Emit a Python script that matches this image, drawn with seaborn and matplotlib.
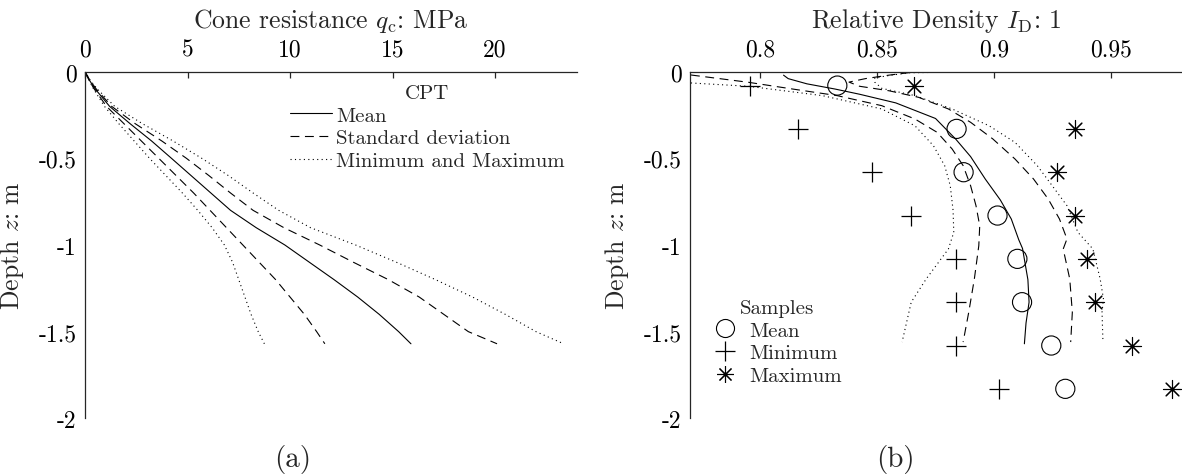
import numpy as np
import pandas as pd
import matplotlib
matplotlib.use("Agg")
import matplotlib.pyplot as plt
import seaborn as sns
from matplotlib.lines import Line2D
from matplotlib.ticker import FuncFormatter

# ---------------- data: panel (a) CPT ----------------
cpt_depth = [0, -0.05, -0.1, -0.2, -0.3, -0.4, -0.5, -0.6, -0.7, -0.8, -0.9,
             -1.0, -1.1, -1.2, -1.3, -1.4, -1.5, -1.57]
cpt_mean = [0, 0.22, 0.5, 1.2, 2.2, 3.25, 4.22, 5.18, 6.14, 7.1, 8.35,
            9.75, 10.95, 12.15, 13.3, 14.35, 15.3, 15.9]
cpt_sd_high = [0, 0.24, 0.55, 1.3, 2.45, 3.75, 4.95, 6.05, 7.1, 8.2, 9.7,
               11.45, 13.1, 14.8, 16.3, 17.5, 18.7, 20.1]
cpt_sd_low = [0, 0.2, 0.45, 1.05, 1.9, 2.75, 3.6, 4.45, 5.3, 6.1, 6.9,
              7.7, 8.5, 9.3, 10.0, 10.7, 11.3, 11.7]
cpt_min = [0, 0.2, 0.42, 0.95, 1.65, 2.4, 3.15, 3.95, 4.75, 5.5, 6.2,
           6.8, 7.2, 7.5, 7.8, 8.1, 8.45, 8.75]
cpt_max = [0, 0.26, 0.6, 1.45, 2.8, 4.3, 5.7, 7.0, 8.2, 9.45, 11.0,
           13.2, 15.2, 17.1, 18.9, 20.5, 22.0, 23.35]

# ---------------- data: panel (b) relative density ----------------
rd_mean_depth = [-0.02, -0.04, -0.07, -0.10, -0.13, -0.18, -0.27, -0.39, -0.49,
                 -0.62, -0.74, -0.85, -0.97, -1.02, -1.20, -1.33, -1.45, -1.57]
rd_mean = [0.810, 0.812, 0.820, 0.832, 0.8425, 0.858, 0.875, 0.8837, 0.890,
           0.8963, 0.9027, 0.9074, 0.9106, 0.9122, 0.9145, 0.915, 0.9137, 0.913]

rd_sd_high_depth = [-0.005, -0.02, -0.04, -0.06, -0.084, -0.11, -0.148, -0.215,
                    -0.292, -0.388, -0.504, -0.619, -0.735, -0.85, -0.965,
                    -1.023, -1.196, -1.388, -1.56]
rd_sd_high = [0.864, 0.855, 0.845, 0.838, 0.8425, 0.8551, 0.8678, 0.8805,
              0.890, 0.8995, 0.909, 0.9169, 0.9232, 0.928, 0.9312,
              0.9296, 0.9324, 0.9335, 0.9328]

rd_sd_low_depth = [-0.019, -0.061, -0.1, -0.138, -0.196, -0.273, -0.35, -0.446,
                   -0.542, -0.658, -0.773, -0.889, -1.004, -1.196, -1.388, -1.56]
rd_sd_low = [0.7704, 0.7949, 0.8139, 0.8329, 0.852, 0.8662, 0.8757, 0.8821,
             0.8868, 0.890, 0.8923, 0.8939, 0.8935, 0.8916, 0.8892, 0.8868]

rd_min_depth = [-0.065, -0.084, -0.138, -0.215, -0.312, -0.427, -0.542, -0.658,
                -0.80, -0.927, -1.023, -1.196, -1.33, -1.56]
rd_min = [0.7704, 0.7949, 0.8266, 0.852, 0.8662, 0.8741, 0.8789, 0.8813,
          0.8825, 0.8828, 0.8805, 0.871, 0.8646, 0.8607]

rd_max_depth = [-0.003, -0.006, -0.02, -0.036, -0.06, -0.096, -0.138, -0.215,
                -0.312, -0.408, -0.542, -0.658, -0.773, -0.927, -1.023,
                -1.196, -1.31, -1.388, -1.56]
rd_max = [0.8794, 0.864, 0.856, 0.849, 0.849, 0.852, 0.8662, 0.8821,
          0.8979, 0.909, 0.9185, 0.9249, 0.9312, 0.9359, 0.9423,
          0.9454, 0.9468, 0.9462, 0.9466]

sample_depth = [-0.08, -0.33, -0.58, -0.83, -1.08, -1.33, -1.58, -1.83]
sample_mean = [0.833, 0.884, 0.887, 0.9015, 0.910, 0.912, 0.9245, 0.9305]
sample_min = [0.7957, 0.816, 0.848, 0.8646, 0.8837, 0.8837, 0.8837, 0.9023]
sample_max = [0.8657, 0.9347, 0.9269, 0.9347, 0.9396, 0.943, 0.959, 0.976]

# ---------------- style ----------------
sns.set_style("white")
plt.rcParams["font.family"] = ["cmr10", "DejaVu Serif"]
plt.rcParams["mathtext.fontset"] = "cm"
plt.rcParams["axes.unicode_minus"] = False
plt.rcParams["axes.formatter.use_mathtext"] = False

AX_COLOR = "#262626"
LW = 0.8
SOLID = "-"
DASHED = (0, (8, 5))
DOTTED = (0, (1, 3))
TICK_FS = 17
LABEL_FS = 18.5
LEG_FS = 15

fig = plt.figure(figsize=(11.82, 4.77), dpi=100)
axA = fig.add_axes([85 / 1182, 1 - 419.3 / 477, 492 / 1182, 346.6 / 477])
axB = fig.add_axes([690 / 1182, 1 - 419.3 / 477, 492 / 1182, 346.6 / 477])

fmt = FuncFormatter(lambda v, p: ("%g" % round(v, 4)))


def style_axes(ax):
    ax.xaxis.tick_top()
    ax.xaxis.set_label_position("top")
    for s in ["right", "bottom"]:
        ax.spines[s].set_visible(False)
    for s in ["left", "top"]:
        ax.spines[s].set_color(AX_COLOR)
        ax.spines[s].set_linewidth(0.9)
    ax.tick_params(axis="both", direction="in", length=4, width=0.9,
                   colors=AX_COLOR, labelcolor="black", labelsize=TICK_FS, pad=6)
    ax.tick_params(axis="x", pad=8)
    ax.set_ylim(-2, 0)
    ax.set_yticks([0, -0.5, -1, -1.5, -2])
    ax.yaxis.set_major_formatter(fmt)
    ax.xaxis.set_major_formatter(fmt)
    ax.set_ylabel("Depth $z$: m", fontsize=LABEL_FS, labelpad=9)


# ---------------- panel (a) ----------------
dfA = pd.DataFrame({"depth": cpt_depth, "mean": cpt_mean, "hi": cpt_sd_high,
                    "lo": cpt_sd_low, "mn": cpt_min, "mx": cpt_max})
for col, ls in [("mean", SOLID), ("hi", DASHED), ("lo", DASHED),
                ("mn", DOTTED), ("mx", DOTTED)]:
    sns.lineplot(data=dfA, x=col, y="depth", sort=False, estimator=None,
                 color="black", linewidth=LW, linestyle=ls, ax=axA)
axA.set_xlim(0, 24)
axA.set_xticks([0, 5, 10, 15, 20])
style_axes(axA)
axA.set_xlabel("Cone resistance $q_\\mathrm{c}$: MPa", fontsize=LABEL_FS, labelpad=8)

handlesA = [Line2D([], [], color="black", lw=LW, linestyle=SOLID),
            Line2D([], [], color="black", lw=LW, linestyle=DASHED),
            Line2D([], [], color="black", lw=LW, linestyle=DOTTED)]
legA = axA.legend(handlesA, ["Mean", "Standard deviation", "Minimum and Maximum"],
                  title="CPT", frameon=False, fontsize=LEG_FS, title_fontsize=LEG_FS,
                  loc="upper left", bbox_to_anchor=((290 - 85) / 492, 1 - (85 - 72.7) / 346.6),
                  borderpad=0, borderaxespad=0, handlelength=2.0, handletextpad=0.2,
                  labelspacing=0.2)

# ---------------- panel (b) ----------------
curves = [(rd_mean, rd_mean_depth, SOLID), (rd_sd_high, rd_sd_high_depth, DASHED),
          (rd_sd_low, rd_sd_low_depth, DASHED), (rd_min, rd_min_depth, DOTTED),
          (rd_max, rd_max_depth, DOTTED)]
for xs, zs, ls in curves:
    sns.lineplot(x=xs, y=zs, sort=False, estimator=None, color="black",
                 linewidth=LW, linestyle=ls, ax=axB)

sns.scatterplot(x=sample_mean, y=sample_depth, marker="o", s=190,
                facecolor="none", edgecolor="black", linewidth=0.8, ax=axB)
sns.scatterplot(x=sample_min, y=sample_depth, marker="+", s=210,
                color="black", linewidth=0.9, ax=axB)
sns.scatterplot(x=sample_max, y=sample_depth, marker=(8, 2, 0), s=170,
                color="black", linewidth=0.8, ax=axB)

axB.set_xlim(0.77, 0.9804)
axB.set_xticks([0.8, 0.85, 0.9, 0.95])
style_axes(axB)
axB.set_xlabel("Relative Density $I_\\mathrm{D}$: 1", fontsize=LABEL_FS, labelpad=8)

handlesB = [Line2D([], [], color="black", marker="o", markerfacecolor="none",
                   linestyle="none", markersize=13, markeredgewidth=0.8),
            Line2D([], [], color="black", marker="+", linestyle="none",
                   markersize=14, markeredgewidth=0.9),
            Line2D([], [], color="black", marker=(8, 2, 0), linestyle="none",
                   markersize=12, markeredgewidth=0.8)]
legB = axB.legend(handlesB, ["Mean", "Minimum", "Maximum"], title="Samples",
                  frameon=False, fontsize=LEG_FS, title_fontsize=LEG_FS,
                  loc="upper left", bbox_to_anchor=((712 - 690) / 492, 1 - (300 - 72.7) / 346.6),
                  borderpad=0, borderaxespad=0, handlelength=1.2, handletextpad=0.6,
                  labelspacing=0.2)

fig.text(293 / 1182, 1 - 460 / 477, "(a)", ha="center", va="center", fontsize=21)
fig.text(895 / 1182, 1 - 460 / 477, "(b)", ha="center", va="center", fontsize=21)

fig.savefig("out.png", dpi=100)
